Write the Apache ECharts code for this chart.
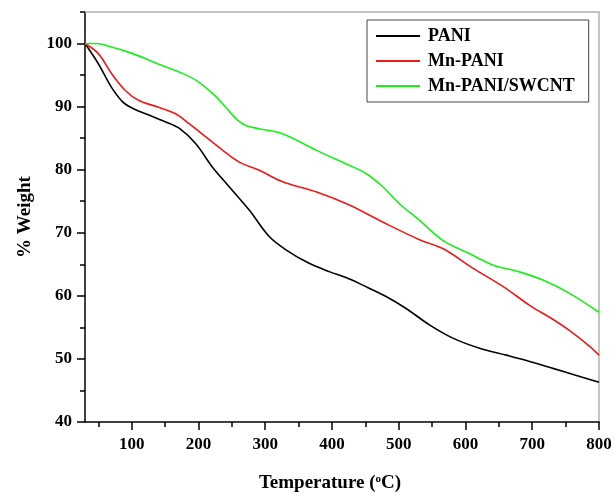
<!DOCTYPE html>
<html>
<head>
<meta charset="utf-8">
<script src="https://cdn.jsdelivr.net/npm/echarts@6/dist/echarts.min.js"></script>
<style>html,body{margin:0;padding:0;background:#fff}#c{width:615px;height:494px}</style>
</head>
<body>
<div id="c"></div>
<script>
const seriesNames = ['PANI', 'Mn-PANI', 'Mn-PANI/SWCNT'];
const paniT = [30,50,70,86,102,125,150,172,196,221,246,276,306,331,365,397,421,446,481,511,546,581,621,661,696,731,765,800];
const paniW = [100,96.8,93.0,90.8,89.7,88.7,87.6,86.5,84.1,80.4,77.3,73.6,69.4,67.3,65.2,63.8,62.9,61.7,59.9,58.0,55.4,53.3,51.7,50.6,49.6,48.5,47.4,46.3];
const mnT = [30,50,70,90,110,140,165,186,211,236,261,291,326,376,426,476,531,566,611,656,696,726,756,786,800];
const mnW = [100,98.4,95.2,92.6,91.0,89.9,88.9,87.3,85.2,83.1,81.2,79.9,78.1,76.5,74.4,71.7,68.9,67.5,64.4,61.5,58.5,56.6,54.5,52.0,50.6];
const swT = [30,47,71,96,121,146,171,196,221,241,256,271,291,326,376,426,451,476,501,531,566,606,641,681,716,756,800];
const swW = [100,100,99.4,98.6,97.6,96.5,95.5,94.2,92.1,89.9,88.1,87.0,86.5,85.7,83.1,80.7,79.4,77.3,74.6,72.0,68.8,66.7,64.9,63.8,62.5,60.4,57.4];
const xMajor = [100,200,300,400,500,600,700,800];
const xMinor = [50,150,250,350,450,550,650,750];
const yMajor = [40,50,60,70,80,90,100];
const colors = ['#000000', '#f01818', '#18f018'];

const pairs = (t, w) => t.map((v, i) => [v, w[i]]);
const datasets = [pairs(paniT, paniW), pairs(mnT, mnW), pairs(swT, swW)];

const font = 'Liberation Serif, Times New Roman, serif';
const chart = echarts.init(document.getElementById('c'));
chart.setOption({
  animation: false,
  backgroundColor: '#fff',
  grid: { left: 85, right: 16, top: 12, bottom: 72, outerBoundsMode: 'none', containLabel: false },
  legend: {
    orient: 'vertical', left: 367, top: 20,
    padding: [7, 14, 7, 9], itemGap: 7, itemWidth: 44, itemHeight: 2, icon: 'rect',
    borderColor: '#444', borderWidth: 1,
    textStyle: { fontFamily: font, fontWeight: 'bold', fontSize: 18, lineHeight: 16, color: '#000', padding: [0,0,0,3] },
    data: seriesNames
  },
  xAxis: [
    {
      type: 'value', min: 30, max: 800, position: 'bottom',
      name: 'Temperature ({sup|o}C)', nameLocation: 'middle', nameGap: 52,
      nameTextStyle: { fontFamily: font, fontWeight: 'bold', fontSize: 19, color: '#000', padding: [0, 24, 0, 0],
        rich: { sup: { fontFamily: font, fontWeight: 'bold', fontSize: 11, verticalAlign: 'top', padding: [0,0,8,0], color: '#000' } } },
      axisLine: { show: true, lineStyle: { color: '#000', width: 1.5 } },
      axisTick: { show: true, customValues: xMajor, length: 8, lineStyle: { color: '#000', width: 1.5 } },
      axisLabel: { customValues: xMajor, margin: 14, fontFamily: font, fontWeight: 'bold', fontSize: 17, color: '#000' },
      splitLine: { show: false }
    },
    {
      type: 'value', min: 30, max: 800, position: 'bottom',
      axisLine: { show: false },
      axisTick: { show: true, customValues: xMinor, length: 5, lineStyle: { color: '#000', width: 1.5 } },
      axisLabel: { show: false }, splitLine: { show: false }
    },
    {
      type: 'value', min: 30, max: 800, position: 'top',
      axisLine: { show: true, lineStyle: { color: '#b0b0b0', width: 1.5 } },
      axisTick: { show: false }, axisLabel: { show: false }, splitLine: { show: false }
    }
  ],
  yAxis: [
    {
      type: 'value', min: 40, max: 105, interval: 5, position: 'left',
      name: '% Weight', nameLocation: 'middle', nameGap: 50, nameRotate: 90,
      nameTextStyle: { fontFamily: font, fontWeight: 'bold', fontSize: 19, color: '#000' },
      axisLine: { show: true, lineStyle: { color: '#000', width: 1.5 } },
      axisTick: { show: true, length: 5, lineStyle: { color: '#000', width: 1.5 } },
      axisLabel: { margin: 13, fontFamily: font, fontWeight: 'bold', fontSize: 17, color: '#000',
        formatter: v => (v % 10 === 0 && v <= 100) ? String(v) : '' },
      splitLine: { show: false }
    },
    {
      type: 'value', min: 40, max: 105, position: 'left',
      axisLine: { show: false },
      axisTick: { show: true, customValues: yMajor, length: 8, lineStyle: { color: '#000', width: 1.5 } },
      axisLabel: { show: false }, splitLine: { show: false }
    },
    {
      type: 'value', min: 40, max: 105, position: 'right',
      axisLine: { show: true, lineStyle: { color: '#b0b0b0', width: 1.5 } },
      axisTick: { show: false }, axisLabel: { show: false }, splitLine: { show: false }
    }
  ],
  series: seriesNames.map((n, i) => ({
    name: n, type: 'line', xAxisIndex: 0, yAxisIndex: 0,
    data: datasets[i], smooth: 0.35,
    symbol: 'none', lineStyle: { color: colors[i], width: 1.6 }, itemStyle: { color: colors[i] }
  }))
});
</script>
</body>
</html>
